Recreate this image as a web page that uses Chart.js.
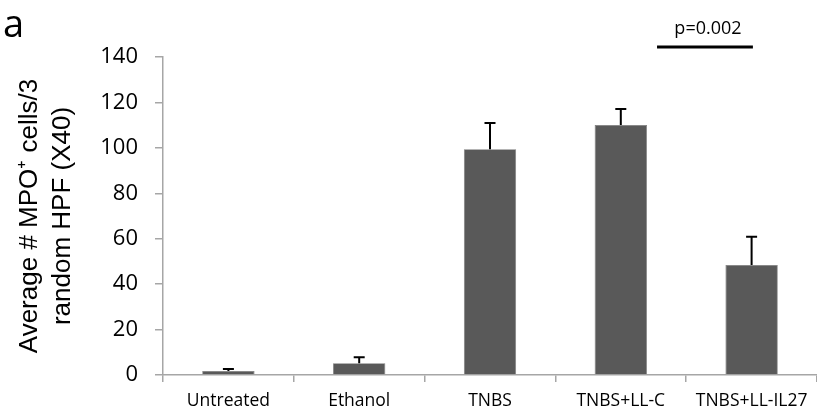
<!DOCTYPE html>
<html>
<head>
<meta charset="utf-8">
<script src="https://cdn.jsdelivr.net/npm/chart.js@4/dist/chart.umd.min.js"></script>
<style>
  html, body { margin: 0; padding: 0; background: #fff; }
  #wrap { width: 817px; height: 419px; position: relative; }
</style>
</head>
<body>
<div id="wrap"><canvas id="c" width="817" height="419"></canvas></div>
<script>
const categories = ["Untreated", "Ethanol", "TNBS", "TNBS+LL-C", "TNBS+LL-IL27"];
const means = [1.8, 5.2, 99.4, 110.1, 48.4];
const errors = [0.8, 2.6, 11.5, 7.0, 12.5];
const yTicks = [0, 20, 40, 60, 80, 100, 120, 140];
const panelLabel = "a";
const yTitle = ["Average # MPO\u207A cells/3", "random HPF (X40)"];
const pText = "p=0.002";
const pLevel = 144.4;

const axisColor = "#a6a6a6";

const extras = {
  id: "extras",
  afterDatasetsDraw(chart) {
    const ctx = chart.ctx;
    const meta = chart.getDatasetMeta(0);
    const y = chart.scales.y;
    const x = chart.scales.x;
    ctx.save();
    ctx.strokeStyle = "#000";
    ctx.lineWidth = 2;
    meta.data.forEach((bar, i) => {
      const top = y.getPixelForValue(means[i] + errors[i]);
      const base = y.getPixelForValue(means[i]);
      ctx.beginPath();
      ctx.moveTo(bar.x, base);
      ctx.lineTo(bar.x, top);
      ctx.moveTo(bar.x - 5.5, top);
      ctx.lineTo(bar.x + 5.5, top);
      ctx.stroke();
    });
    // significance line
    const step = x.getPixelForValue(4) - x.getPixelForValue(3);
    const x1 = x.getPixelForValue(3) + 0.277 * step;
    const x2 = x.getPixelForValue(4) + 0.01 * step;
    const ly = y.getPixelForValue(pLevel);
    ctx.lineWidth = 3;
    ctx.beginPath();
    ctx.moveTo(x1, ly);
    ctx.lineTo(x2, ly);
    ctx.stroke();
    ctx.fillStyle = "#000";
    ctx.font = "18px 'Open Sans'";
    ctx.textAlign = "center";
    ctx.textBaseline = "alphabetic";
    ctx.fillText(pText, (x1 + x2) / 2 + 3, ly - 13);
    // panel label
    ctx.font = "38px 'Open Sans'";
    ctx.textAlign = "left";
    ctx.fillText(panelLabel, 3, 37);
    // y title
    ctx.font = "26px 'Liberation Sans'";
    ctx.textAlign = "center";
    ctx.translate(37, (chart.chartArea.top + chart.chartArea.bottom) / 2);
    ctx.rotate(-Math.PI / 2);
    ctx.fillText(yTitle[0], 0, 0);
    ctx.fillText(yTitle[1], 0, 33);
    ctx.restore();
  }
};

new Chart(document.getElementById("c"), {
  type: "bar",
  data: {
    labels: categories,
    datasets: [{
      data: means,
      backgroundColor: "#595959",
      borderColor: "#7a7a7a",
      borderWidth: 0.8,
      categoryPercentage: 1.0,
      barPercentage: 0.4
    }]
  },
  options: {
    responsive: false,
    animation: false,
    devicePixelRatio: 1,
    layout: { padding: { top: 57, right: 0, bottom: 0, left: 0 } },
    plugins: { legend: { display: false }, tooltip: { enabled: false } },
    scales: {
      x: {
        grid: { display: true, drawOnChartArea: false, drawTicks: true, tickLength: 7, color: axisColor, lineWidth: 1.5, offset: true },
        border: { display: true, color: axisColor, width: 1.5 },
        ticks: { color: "#000", font: { family: "'Open Sans'", size: 17.5 }, padding: 9, maxRotation: 0, autoSkip: false },
        afterFit(scale) { scale.height = 44; }
      },
      y: {
        min: 0, max: 140,
        afterBuildTicks(scale) { scale.ticks = yTicks.map(v => ({ value: v })); },
        grid: { display: true, drawOnChartArea: false, drawTicks: true, tickLength: 8, color: axisColor, lineWidth: 1.5 },
        border: { display: true, color: axisColor, width: 1.5 },
        ticks: { color: "#000", font: { family: "'Open Sans'", size: 22 }, padding: 17 },
        afterFit(scale) { scale.width = 163; }
      }
    }
  },
  plugins: [extras]
});
</script>
</body>
</html>
